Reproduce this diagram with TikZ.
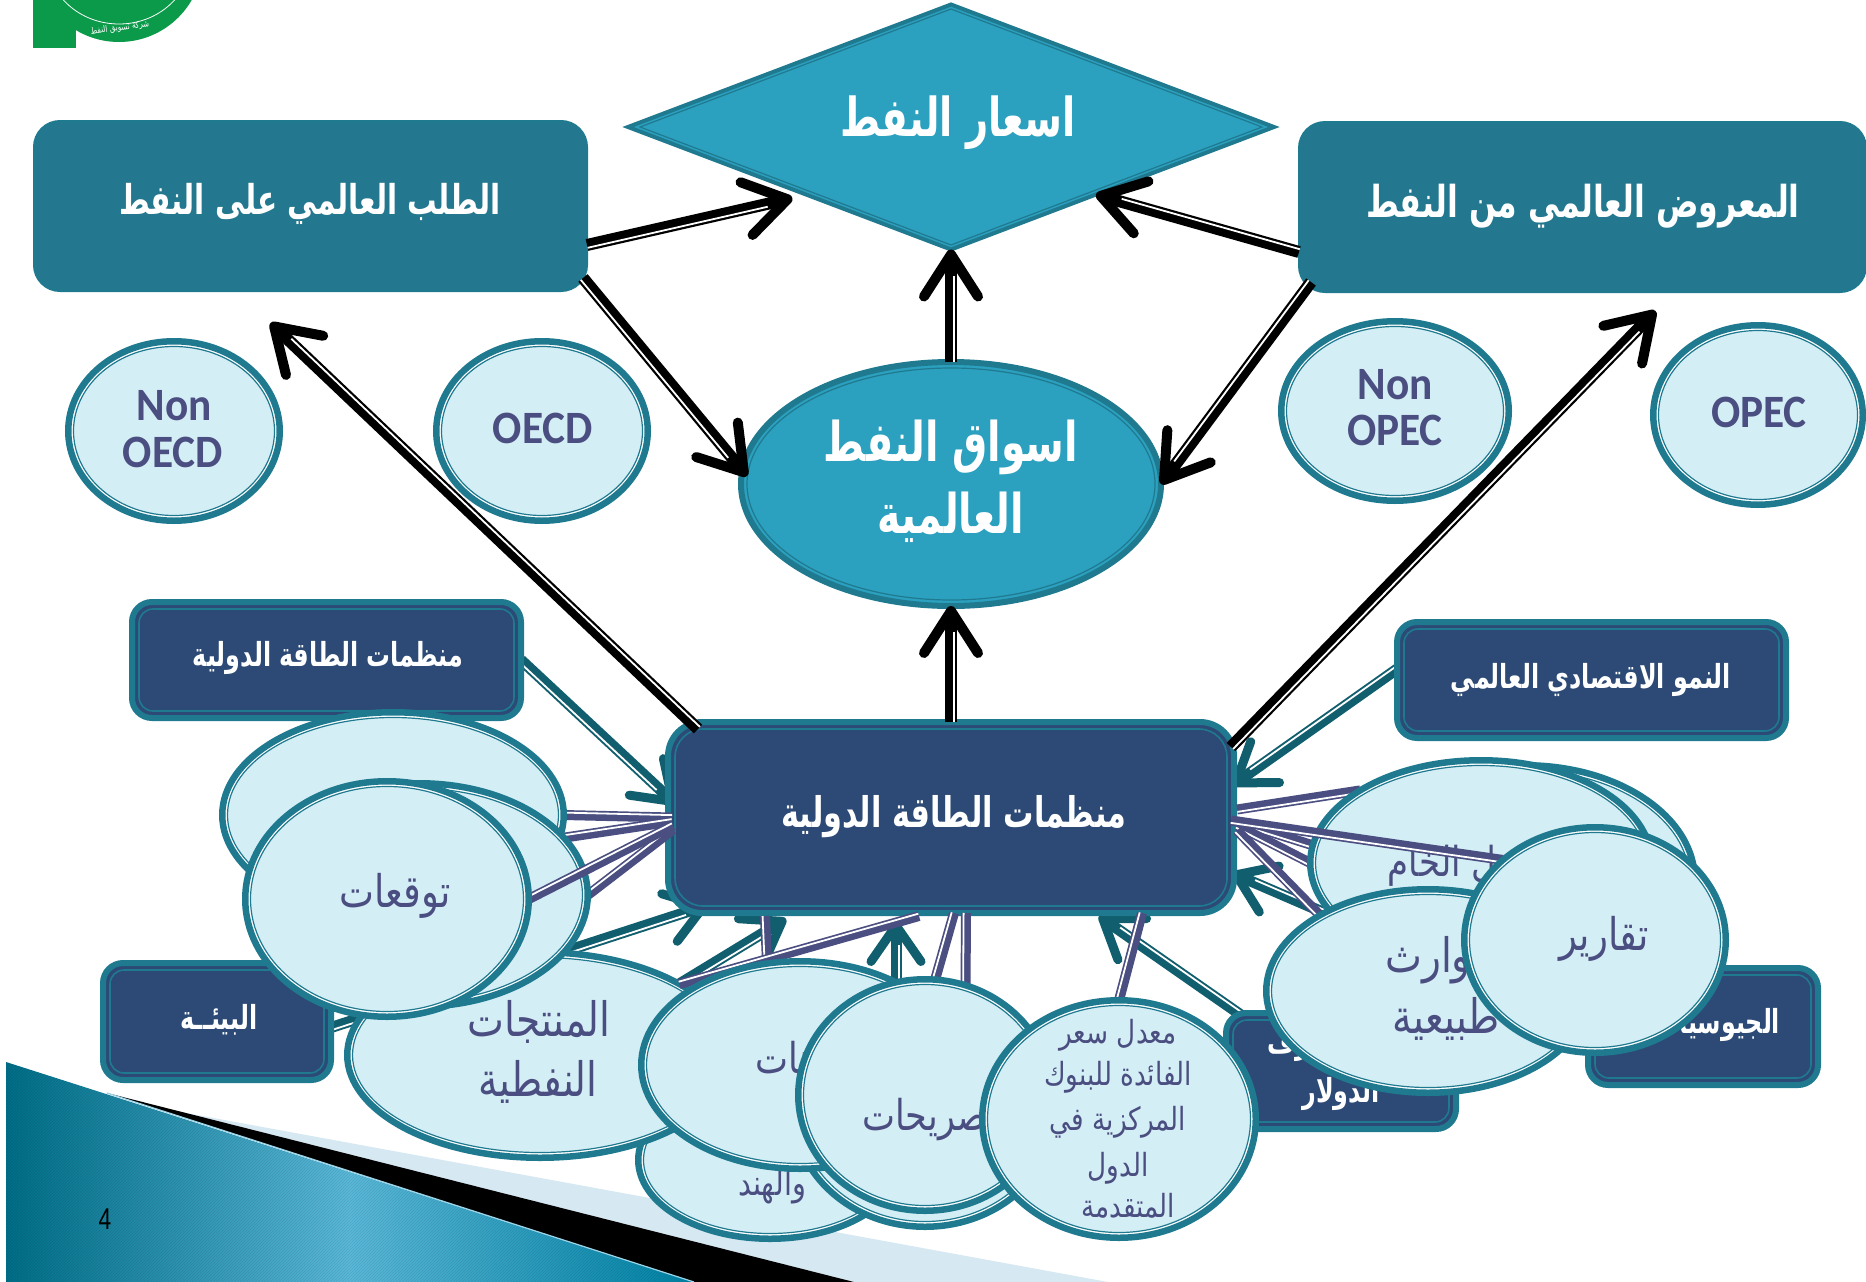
\documentclass[tikz,border=0pt]{standalone}
\usepackage{fontspec}
\usetikzlibrary{arrows.meta,shapes.geometric,calc,patterns}
\TeXXeTstate=1
\newfontfamily\arabicfont[Script=Arabic]{DejaVu Sans}
\newfontfamily\arabicbold[Script=Arabic]{DejaVu Sans Bold}
\newfontfamily\latinfont{Carlito}
\newfontfamily\numfont{Liberation Sans}
\definecolor{edge}{HTML}{1F7A90}
\definecolor{ice}{HTML}{D4EEF5}
\definecolor{navy}{HTML}{2C4A75}
\definecolor{purp}{HTML}{4A4E80}
\definecolor{dteal}{HTML}{115E6E}
\definecolor{boxteal}{HTML}{23788F}
\definecolor{cyanfill}{HTML}{2CA0BF}
\definecolor{logog}{HTML}{0A9A4A}
\definecolor{hatch}{HTML}{D6E8F1}
\definecolor{gradA}{HTML}{006E88}
\definecolor{gradB}{HTML}{5AB8D8}
\definecolor{gradC}{HTML}{0082A4}
\pgfdeclarelayer{deco}\pgfdeclarelayer{tealw}\pgfdeclarelayer{wires}\pgfdeclarelayer{ovalA}
\pgfdeclarelayer{wireB}\pgfdeclarelayer{ovalB}\pgfdeclarelayer{wireC}\pgfdeclarelayer{ovalC}
\pgfsetlayers{deco,tealw,main,wires,ovalA,wireB,ovalB,wireC,ovalC}
\newcommand\arw[2]{\scalebox{.82}[1.14]{\fontsize{#1}{#1}\selectfont\arabicbold #2}}
\newcommand\arp[2]{\scalebox{1.03}[1.25]{\fontsize{#1}{#1}\selectfont\arabicfont #2}}
\newcommand\lat[2]{\scalebox{1.14}[1.22]{\fontsize{#1}{#1}\selectfont\latinfont\bfseries #2}}
\tikzset{
  tipblack/.style={-{Straight Barb[length=42pt,width=54pt,line width=10pt,round]}},
  tipteal/.style={-{Straight Barb[length=36pt,width=50pt,line width=9pt,round]}},
  wtext/.style={text=white,inner sep=0pt,align=center},
  ptext/.style={text=purp,inner sep=0pt,align=center},
  plainbox/.style={fill=boxteal,draw=edge,line width=2pt,rounded corners=26pt,inner sep=0pt,outer sep=0pt},
}
\newcommand\twin[6]{% colour, width, tip style, stripe shorten, from, to
  \draw[#1,line width=#2pt,#3] (#5) -- (#6);
  \coordinate (twA) at ($(#5)!#2*0.24pt!-90:(#6)$);
  \coordinate (twB) at ($(#6)!#2*0.24pt!90:(#5)$);
  \draw[white,line width=1.8pt,shorten >=#4pt] (twA) -- (twB);
}
\newcommand\blk[2]{\twin{black}{12}{tipblack}{26}{#1}{#2}}
\newcommand\tea[2]{\twin{dteal}{11}{tipteal}{24}{#1}{#2}}
\newcommand\pur[2]{\twin{purp}{10}{}{0}{#1}{#2}}
\newcommand\nbox[6]{% name cx cy w h radius
  \node[draw=edge,line width=6pt,fill=navy,rounded corners=#6pt,minimum width={#4-6},minimum height={#5-6},inner sep=0pt,outer sep=0pt] (#1) at (#2,#3) {};
  \draw[edge,line width=1.6pt,rounded corners={#6-6}] ([shift={(7,7)}]#1.north west) rectangle ([shift={(-7,-7)}]#1.south east);
}
\newcommand\ovalnode[7]{% layer name cx cy rx ry text-drawing
  \begin{pgfonlayer}{#1}
  \node[ellipse,draw=edge,line width=6.5pt,fill=white,minimum width={2*#5-6.5},minimum height={2*#6-6.5},inner sep=0pt,outer sep=0pt] (#2) at (#3,#4) {};
  \draw[edge,line width=1.2pt,fill=ice] (#3,#4) ellipse ({#5-8.5} and {#6-8.5});
  #7
  \end{pgfonlayer}
}
\begin{document}
\begin{tikzpicture}[x=1pt,y=-1pt]
\useasboundingbox (0,0) rectangle (1866,1282);
\begin{pgfonlayer}{deco}
  \fill[white] (0,0) rectangle (1866,1282);
  % corner decoration
  \fill[hatch] (148,1106) -- (1108,1282) -- (854,1282) -- cycle;
  \fill[black] (107,1093) -- (854,1282) -- (694,1282) -- cycle;
  \shade[left color=gradA,right color=gradC,middle color=gradB] (6,1062) -- (694,1282) -- (6,1282) -- cycle;
  \fill[pattern=north east lines,pattern color=black,opacity=.10] (6,1062) -- (694,1282) -- (6,1282) -- cycle;
  \draw[gradB!60!white,line width=1.2pt] (107,1093) -- (694,1282);
  % logo
  \fill[logog] (33,0) rectangle (76,48);
  \fill[logog] (119,-42) ellipse (84 and 84);
  \draw[white,line width=.8pt] (119,-42) ellipse (72 and 66);
  \node[text=white,inner sep=0pt,rotate=8] (logoT) at (120,28) {\scalebox{.8}[1]{\fontsize{9}{9}\selectfont\arabicfont\beginR شركة تسويق النفط\endR}};
\end{pgfonlayer}
% page number
\node[inner sep=0pt,text=black] (pnum) at (105,1219) {\scalebox{.95}[1.25]{\fontsize{24}{24}\selectfont\numfont 4}};

% main boxes
\node[plainbox,minimum width=553pt,minimum height=170pt] (demand) at (310.5,206) {};
\node[wtext] (demandT) at (310,204) {\arw{36}{\beginR الطلب العالمي على النفط\endR}};
\node[plainbox,minimum width=567pt,minimum height=170pt] (supply) at (1582.5,207) {};
\node[wtext] (supplyT) at (1583,206) {\arw{38.5}{\beginR المعروض العالمي من النفط\endR}};

\node[diamond,draw=edge,line width=4pt,fill=cyanfill,minimum width=646pt,minimum height=245pt,aspect=2.63,inner sep=0pt,outer sep=0pt] (price) at (951,127) {};
\draw[edge,line width=1.2pt] (640,127) -- (951,9) -- (1262,127) -- (951,245) -- cycle;
\node[wtext] (priceT) at (958,123) {\arw{47}{\beginR اسعار النفط\endR}};

\node[ellipse,draw=edge,line width=6pt,fill=cyanfill,minimum width=420pt,minimum height=244pt,inner sep=0pt,outer sep=0pt] (market) at (951,484) {};
\draw[edge,line width=1.2pt] (951,484) ellipse (204 and 116);
\node[wtext] (marketT1) at (951,447) {\arw{48}{\beginR اسواق النفط\endR}};
\node[wtext] (marketT2) at (951,517) {\arw{48}{\beginR العالمية\endR}};

\nbox{hub}{951}{817.5}{572}{197}{34}
\node[wtext] (hubT) at (954,817) {\arw{37}{\beginR منظمات الطاقة الدولية\endR}};
\nbox{iea}{326.5}{660}{395}{122}{20}
\node[wtext] (ieaT) at (328,658) {\arw{29}{\beginR منظمات الطاقة الدولية\endR}};
\nbox{growth}{1591.5}{680}{395}{122}{20}
\node[wtext] (growthT) at (1591,680) {\arw{29}{\beginR النمو الاقتصادي العالمي\endR}};
\nbox{env}{217}{1021.5}{234}{123}{20}
\node[wtext] (envT) at (219,1020) {\arw{29}{\beginR البيئــة\endR}};
\nbox{dollar}{1341}{1071}{236}{122}{20}
\node[wtext] (dollarT1) at (1330,1047) {\arw{29}{\beginR سعر صرف\endR}};
\node[wtext] (dollarT2) at (1341,1094) {\arw{29}{\beginR الدولار\endR}};
\nbox{geo}{1703}{1026.5}{236}{123}{20}
\node[wtext] (geoT) at (1706,1025) {\arw{29}{\beginR الجيوسياسية\endR}};

% upper ovals (above the connectors)
\ovalnode{ovalC}{nonoecd}{174}{431}{109}{93}{\node[ptext] (nonoecdT1) at (174,406) {\lat{38}{Non}};\node[ptext] (nonoecdT2) at (173,452) {\lat{38}{OECD}};}
\ovalnode{ovalC}{oecd}{542}{431}{109}{93}{\node[ptext] (oecdT) at (543,428) {\lat{38}{OECD}};}
\ovalnode{ovalC}{nonopec}{1395}{411}{117}{93}{\node[ptext] (nonopecT1) at (1395,385) {\lat{38}{Non}};\node[ptext] (nonopecT2) at (1395,430) {\lat{38}{OPEC}};}
\ovalnode{ovalC}{opec}{1758}{415}{108}{93}{\node[ptext] (opecT) at (1759,412) {\lat{38}{OPEC}};}

% cluster ovals
\ovalnode{ovalA}{E1}{393}{815}{174}{106}{}
\ovalnode{ovalA}{E5}{770}{1160}{135}{82}{\node[ptext] (E5T1) at (772,1138) {\arp{28}{\beginR الصين\endR}};\node[ptext] (E5T2) at (772,1186) {\arp{28}{\beginR والهند\endR}};}
\ovalnode{ovalA}{E4}{540}{1055}{196}{106}{\node[ptext] (E4T1) at (539,1022) {\arp{38}{\beginR المنتجات\endR}};\node[ptext] (E4T2) at (538,1082) {\arp{38}{\beginR النفطية\endR}};}
\ovalnode{ovalA}{E2}{419}{895}{172}{115}{}
\ovalnode{ovalB}{E3}{387}{899}{145}{121}{\node[ptext] (E3T) at (395,896) {\arp{36}{\beginR توقعات\endR}};}
\ovalnode{ovalB}{E7}{925}{1110}{135}{120}{}
\ovalnode{ovalB}{E6}{800}{1065}{162}{107}{\node[ptext] (E6T) at (832,1063) {\arp{34}{\beginR المخزونات\endR}};}
\ovalnode{ovalB}{E8}{925}{1095}{130}{119}{\node[ptext] (E8T) at (930,1120) {\arp{34}{\beginR تصريحات\endR}};}
\ovalnode{ovalB}{E9}{1119}{1119}{140}{122}{%
  \node[ptext] (E9T1) at (1118,1035) {\arp{25.5}{\beginR معدل سعر\endR}};
  \node[ptext] (E9T2) at (1118,1077) {\arp{25.5}{\beginR الفائدة للبنوك\endR}};
  \node[ptext] (E9T3) at (1118,1122) {\arp{25.5}{\beginR المركزية في\endR}};
  \node[ptext] (E9T4) at (1118,1168) {\arp{25.5}{\beginR الدول\endR}};
  \node[ptext] (E9T5) at (1128,1206) {\arp{25.5}{\beginR المتقدمة\endR}};}
\ovalnode{ovalB}{E10b}{1525}{880}{173}{118}{}
\ovalnode{ovalB}{E10a}{1481}{863}{174}{106}{\node[ptext] (E10T) at (1480,866) {\arp{33}{\beginR البترول الخام\endR}};}
\ovalnode{ovalC}{E11}{1428}{991}{165}{105}{\node[ptext] (E11T1) at (1438,960) {\arp{38}{\beginR كوارث\endR}};\node[ptext] (E11T2) at (1446,1019) {\arp{38}{\beginR طبيعية\endR}};}
\ovalnode{ovalC}{E12}{1595}{940}{134}{116}{\node[ptext] (E12T) at (1604,939) {\arp{36}{\beginR تقارير\endR}};}

% black double arrows
\begin{pgfonlayer}{wires}
\blk{[shift={(0,39)}]demand.east}{[shift={(-10,5)}]price.204}
\blk{[shift={(-4,-13)}]demand.south east}{[shift={(6,-8)}]market.west}
\blk{[shift={(0,45)}]supply.west}{price.-25}
\blk{[shift={(12,-10)}]supply.south west}{market.east}
\blk{market.north}{price.south}
\blk{hub.north}{market.south}
\blk{[shift={(30,7)}]hub.north west}{[shift={(-40,32)}]demand.south}
\blk{[shift={(-3,25)}]hub.north east}{[shift={(73,19)}]supply.south}
\end{pgfonlayer}

% teal double arrows, under the hub
\coordinate (hiddenA) at (676,986);
\coordinate (hiddenB) at (896,1020);
\begin{pgfonlayer}{tealw}
\tea{iea.east}{[shift={(8,-13)}]hub.west}
\tea{[shift={(0,6)}]env.east}{[shift={(40,-8)}]hub.south west}
\tea{[shift={(15,2)}]dollar.north west}{[shift={(-135,3)}]hub.south east}
\tea{geo.west}{[shift={(-2,-40)}]hub.south east}
\tea{[shift={(0,-11)}]growth.west}{[shift={(-2,-32)}]hub.east}
\tea{hiddenA}{[shift={(-165,6)}]hub.south}
\tea{hiddenB}{[shift={(-55,8)}]hub.south}
\end{pgfonlayer}

% purple double lines
\begin{pgfonlayer}{wires}
\pur{[shift={(4,0)}]hub.west}{E1.east}
\pur{[shift={(4,4)}]hub.west}{E1.-8}
\pur{[shift={(5,12)}]hub.west}{E2.east}
\pur{[shift={(-186,3)}]hub.south}{E6.108}
\pur{[shift={(3,0)}]hub.south}{E8.85}
\pur{[shift={(15,0)}]hub.south}{E7.70}
\pur{[shift={(191,0)}]hub.south}{E9.north}
\pur{[shift={(3,-8)}]hub.east}{E10a.149}
\pur{[shift={(3,4)}]hub.east}{E10a.174}
\pur{[shift={(3,8)}]hub.east}{E10a.west}
\end{pgfonlayer}
\begin{pgfonlayer}{wireB}
\pur{[shift={(5,8)}]hub.west}{E3.east}
\pur{[shift={(-32,3)}]hub.south}{E4.27}
\end{pgfonlayer}
\begin{pgfonlayer}{wireC}
\pur{[shift={(-3,3)}]hub.east}{E12.139}
\pur{[shift={(3,13)}]hub.east}{E11.145}
\end{pgfonlayer}
\end{tikzpicture}
\end{document}
